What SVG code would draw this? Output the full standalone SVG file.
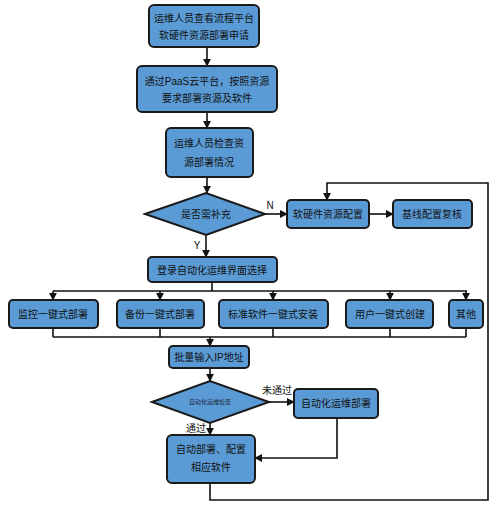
<svg xmlns="http://www.w3.org/2000/svg" width="500" height="508" viewBox="0 0 500 508">
<defs>
<style>
.box{fill:#5b9bd5;stroke:#1a1a1a;stroke-width:2}
.t{font-family:"Liberation Sans","Noto Sans CJK SC",sans-serif;font-size:10px;fill:#111;text-anchor:middle;dominant-baseline:central}
.lbl{font-family:"Liberation Sans","Noto Sans CJK SC",sans-serif;font-size:10px;fill:#111;text-anchor:middle;dominant-baseline:central}
.ln{fill:none;stroke:#111;stroke-width:1.6}
.ar{fill:none;stroke:#111;stroke-width:1.6;marker-end:url(#ah)}
</style>
<marker id="ah" viewBox="0 0 10 10" refX="9" refY="5" markerWidth="5" markerHeight="5" orient="auto" markerUnits="strokeWidth">
<path d="M0,0 L10,5 L0,10 z" fill="#111"/>
</marker>
</defs>
<rect width="500" height="508" fill="#fff"/>
<g id="connectors">
<path class="ar" d="M207,47 V66"/>
<path class="ar" d="M207,112 V128"/>
<path class="ar" d="M207,177 V193"/>
<path class="ar" d="M206,235 V257"/>
<path class="ar" d="M265,214 H287"/>
<path class="ar" d="M369,214 H393"/>
<path class="ar" d="M210,483 V500 H488 V183 H327 V200"/>
<path class="ln" d="M212,282 V291 M53,291 H467"/>
<path class="ar" d="M53,291 V300"/>
<path class="ar" d="M160,291 V300"/>
<path class="ar" d="M273,291 V300"/>
<path class="ar" d="M390,291 V300"/>
<path class="ar" d="M466,291 V300"/>
<path class="ln" d="M53,328 V337 M160,328 V337 M273,328 V337 M390,328 V337 M466,328 V337 M53,337 H466"/>
<path class="ar" d="M210,337 V346"/>
<path class="ar" d="M210,368 V381"/>
<path class="ar" d="M269,402 H294"/>
<path class="ar" d="M210,423 V435"/>
<path class="ar" d="M337,418 V458 H255"/>
<text class="lbl" x="270" y="205">N</text>
<text class="lbl" x="197" y="245">Y</text>
<text class="lbl" x="277" y="390">未通过</text>
<text class="lbl" x="196" y="428">通过</text>
</g>
<g id="n1"><rect class="box" x="149" y="5" width="110" height="42" rx="5"/><text class="t" x="204" y="18">运维人员查看流程平台</text><text class="t" x="204" y="35">软硬件资源部署申请</text></g>
<g id="n2"><rect class="box" x="137" y="66" width="140" height="46" rx="5"/><text class="t" x="207" y="81">通过PaaS云平台，按照资源</text><text class="t" x="207" y="98">要求部署资源及软件</text></g>
<g id="n3"><rect class="box" x="166" y="128" width="87" height="49" rx="5"/><text class="t" x="209" y="143">运维人员检查资</text><text class="t" x="209" y="162">源部署情况</text></g>
<g id="d1"><polygon class="box" points="145,214 206,193 265,214 206,235"/><text class="t" x="206" y="214">是否需补充</text></g>
<g id="n4"><rect class="box" x="287" y="200" width="82" height="28" rx="4"/><text class="t" x="328" y="214">软硬件资源配置</text></g>
<g id="n5"><rect class="box" x="393" y="200" width="79" height="28" rx="4"/><text class="t" x="432" y="214">基线配置复核</text></g>
<g id="n6"><rect class="box" x="148" y="257" width="129" height="25" rx="4"/><text class="t" x="212" y="270">登录自动化运维界面选择</text></g>
<g id="n7"><rect class="box" x="9" y="300" width="89" height="28" rx="4"/><text class="t" x="53" y="314">监控一键式部署</text></g>
<g id="n8"><rect class="box" x="117" y="300" width="87" height="28" rx="4"/><text class="t" x="160" y="314">备份一键式部署</text></g>
<g id="n9"><rect class="box" x="219" y="300" width="109" height="28" rx="4"/><text class="t" x="273" y="314">标准软件一键式安装</text></g>
<g id="n10"><rect class="box" x="346" y="300" width="87" height="28" rx="4"/><text class="t" x="390" y="314">用户一键式创建</text></g>
<g id="n11"><rect class="box" x="449" y="300" width="34" height="28" rx="4"/><text class="t" x="466" y="314">其他</text></g>
<g id="n12"><rect class="box" x="169" y="346" width="80" height="22" rx="4"/><text class="t" x="209" y="357">批量输入IP地址</text></g>
<g id="d2"><polygon class="box" points="152,402 210,381 269,402 210,423"/><text class="t" x="210" y="402" style="font-size:6px;fill:#1f2a44">自动化运维检查</text></g>
<g id="n13"><rect class="box" x="294" y="389" width="84" height="29" rx="4"/><text class="t" x="336" y="403">自动化运维部署</text></g>
<g id="n14"><rect class="box" x="167" y="435" width="88" height="48" rx="5"/><text class="t" x="211" y="449">自动部署、配置</text><text class="t" x="211" y="467">相应软件</text></g>
</svg>
